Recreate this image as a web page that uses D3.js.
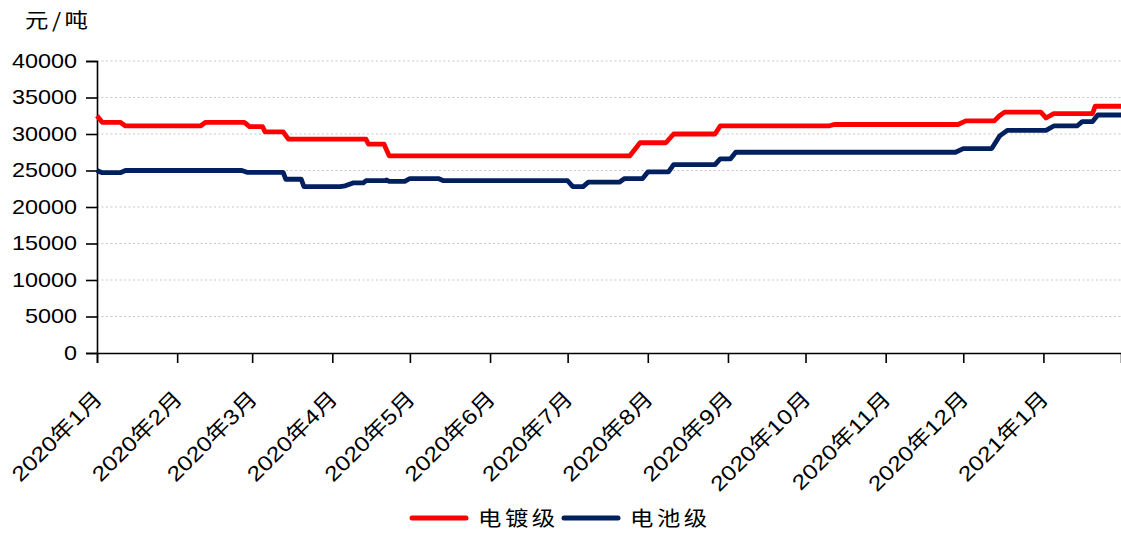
<!DOCTYPE html>
<html>
<head>
<meta charset="utf-8">
<script src="https://cdn.jsdelivr.net/npm/d3@7"></script>
<style>
  body { margin: 0; background: #fff; }
  svg { display: block; }
</style>
</head>
<body>
<div id="chart"></div>
<script>
// series names and colours
const seriesNames = ["电镀级", "电池级"];
const seriesColors = ["#ff0000", "#002060"];

// 电镀级 price (元/吨)
const platingPoints = [
  ["2020-01-01", 32500], ["2020-01-03", 31600], ["2020-01-10", 31600],
  ["2020-01-12", 31100], ["2020-02-10", 31100], ["2020-02-12", 31600],
  ["2020-02-27", 31600], ["2020-02-29", 31000], ["2020-03-05", 31000],
  ["2020-03-06", 30300], ["2020-03-13", 30300], ["2020-03-15", 29300],
  ["2020-04-14", 29300], ["2020-04-15", 28600], ["2020-04-21", 28600],
  ["2020-04-23", 27000], ["2020-07-25", 27000], ["2020-07-29", 28800],
  ["2020-08-08", 28800], ["2020-08-11", 30000], ["2020-08-27", 30000],
  ["2020-08-29", 31100], ["2020-10-10", 31100], ["2020-10-12", 31300],
  ["2020-11-29", 31300], ["2020-12-02", 31800], ["2020-12-13", 31800],
  ["2020-12-15", 32500], ["2020-12-17", 33000], ["2020-12-31", 33000],
  ["2021-01-02", 32200], ["2021-01-03", 32400], ["2021-01-05", 32800],
  ["2021-01-20", 32800], ["2021-01-21", 33800], ["2021-01-31", 33800]
];

// 电池级 price (元/吨)
const batteryPoints = [
  ["2020-01-01", 25000], ["2020-01-03", 24700], ["2020-01-10", 24700],
  ["2020-01-12", 25000], ["2020-02-26", 25000], ["2020-02-28", 24750],
  ["2020-03-13", 24750], ["2020-03-14", 23800], ["2020-03-20", 23800],
  ["2020-03-21", 22800], ["2020-04-04", 22800], ["2020-04-06", 22900],
  ["2020-04-09", 23300], ["2020-04-13", 23300], ["2020-04-14", 23600],
  ["2020-04-21", 23600], ["2020-04-22", 23700], ["2020-04-23", 23500],
  ["2020-04-29", 23500], ["2020-05-01", 23900], ["2020-05-12", 23900],
  ["2020-05-14", 23600], ["2020-07-01", 23600], ["2020-07-03", 22800],
  ["2020-07-07", 22800], ["2020-07-09", 23400], ["2020-07-21", 23400],
  ["2020-07-23", 23900], ["2020-07-30", 23900], ["2020-08-01", 24800],
  ["2020-08-09", 24800], ["2020-08-11", 25800], ["2020-08-27", 25800],
  ["2020-08-29", 26600], ["2020-09-02", 26600], ["2020-09-04", 27500],
  ["2020-11-28", 27500], ["2020-12-01", 28000], ["2020-12-12", 28000],
  ["2020-12-15", 29700], ["2020-12-18", 30500], ["2021-01-02", 30500],
  ["2021-01-05", 31100], ["2021-01-14", 31100], ["2021-01-16", 31700],
  ["2021-01-20", 31700], ["2021-01-22", 32600], ["2021-01-31", 32600]
];

// axis ticks
const yTicks = [0, 5000, 10000, 15000, 20000, 25000, 30000, 35000, 40000];
const monthTickDates = ["2020-01-01", "2020-02-01", "2020-03-01", "2020-04-01",
  "2020-05-01", "2020-06-01", "2020-07-01", "2020-08-01", "2020-09-01",
  "2020-10-01", "2020-11-01", "2020-12-01", "2021-01-01"];
const monthTickLabels = ["2020年1月", "2020年2月", "2020年3月", "2020年4月",
  "2020年5月", "2020年6月", "2020年7月", "2020年8月", "2020年9月",
  "2020年10月", "2020年11月", "2020年12月", "2021年1月"];
const unitLabel = "元/吨";

const chartW = 1121, chartH = 534;
const plotLeft = 97, plotRight = 1121, plotTop = 61, plotBottom = 353;
// the source picture is a bit wider than tall, text gets the same stretch
const widen = 1.17;
const fontFamily = '"Liberation Sans", Arial, "Noto Sans CJK SC", sans-serif';
const cjkFont = '"Noto Sans CJK SC", sans-serif';

const parse = d3.timeParse("%Y-%m-%d");

const x = d3.scaleTime()
  .domain([parse("2020-01-01"), parse("2021-01-31")])
  .range([plotLeft, plotRight]);

const y = d3.scaleLinear()
  .domain([0, 40000])
  .range([plotBottom, plotTop]);

const svg = d3.select("#chart")
  .append("svg")
  .attr("width", chartW)
  .attr("height", chartH);

// dotted grid lines
svg.append("g")
  .selectAll("line")
  .data(yTicks.filter(d => d > 0))
  .enter().append("line")
  .attr("x1", plotLeft)
  .attr("x2", plotRight)
  .attr("y1", d => y(d))
  .attr("y2", d => y(d))
  .attr("stroke", "#c8c8c8")
  .attr("stroke-width", 1.2)
  .attr("stroke-dasharray", "2,2.5");

// y axis
const yAxis = svg.append("g")
  .attr("transform", `translate(${plotLeft},0)`)
  .call(d3.axisLeft(y).tickValues(yTicks).tickSize(11).tickPadding(9).tickFormat(d3.format("d")));
yAxis.select(".domain").attr("stroke", "#000").attr("stroke-width", 1.6);
yAxis.selectAll(".tick line").attr("stroke", "#000").attr("stroke-width", 1.6);
yAxis.selectAll(".tick text")
  .attr("font-family", fontFamily)
  .attr("font-size", 20)
  .attr("fill", "#000")
  .attr("x", -20 / widen)
  .attr("transform", `scale(${widen},1)`);

// x axis
const xAxis = svg.append("g")
  .attr("transform", `translate(0,${plotBottom})`)
  .call(d3.axisBottom(x).tickValues(monthTickDates.map(parse)).tickSize(10).tickFormat(""));
xAxis.select(".domain").attr("stroke", "#000").attr("stroke-width", 1.6);
xAxis.selectAll(".tick line").attr("stroke", "#000").attr("stroke-width", 1.6);
xAxis.selectAll(".tick")
  .append("text")
  .attr("fill", "#000")
  .attr("font-family", fontFamily)
  .attr("font-size", 21)
  .attr("text-anchor", "end")
  .attr("transform", `translate(6,47) rotate(-45) scale(${widen},1)`)
  .text((d, i) => monthTickLabels[i]);

// unit label
svg.append("text")
  .attr("transform", `translate(25,28) scale(${widen},1)`)
  .attr("font-family", cjkFont)
  .attr("font-size", 20)
  .attr("letter-spacing", 3)
  .attr("fill", "#000")
  .text(unitLabel);

// lines
const line = d3.line()
  .x(d => x(parse(d[0])))
  .y(d => y(d[1]));

[platingPoints, batteryPoints].forEach((pts, i) => {
  svg.append("path")
    .datum(pts)
    .attr("fill", "none")
    .attr("stroke", seriesColors[i])
    .attr("stroke-width", 4.8)
    .attr("stroke-linejoin", "round")
    .attr("d", line);
});

// legend
const legendX = [410, 562];
const legend = svg.append("g");
seriesNames.forEach((name, i) => {
  legend.append("line")
    .attr("x1", legendX[i] + 2)
    .attr("x2", legendX[i] + 56)
    .attr("y1", 518)
    .attr("y2", 518)
    .attr("stroke", seriesColors[i])
    .attr("stroke-width", 5)
    .attr("stroke-linecap", "round");
  legend.append("text")
    .attr("transform", `translate(${legendX[i] + 68},526) scale(${widen},1)`)
    .attr("font-family", cjkFont)
    .attr("font-size", 20)
    .attr("letter-spacing", 3)
    .attr("fill", "#000")
    .text(name);
});
</script>
</body>
</html>
